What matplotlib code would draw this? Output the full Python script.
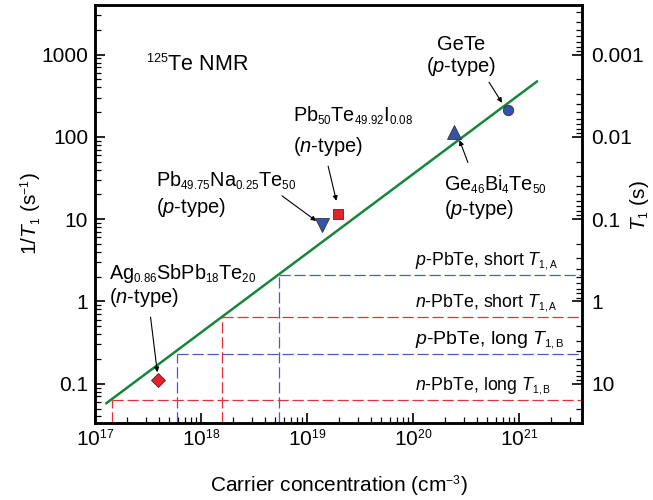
import matplotlib
matplotlib.use("Agg")
import matplotlib.pyplot as plt
import matplotlib._mathtext as _mt
import numpy as np

_mt.SHRINK_FACTOR = 0.58

plt.rcParams['font.family'] = ['Liberation Sans', 'DejaVu Sans']
plt.rcParams['mathtext.fontset'] = 'custom'
plt.rcParams['mathtext.rm'] = 'Liberation Sans'
plt.rcParams['mathtext.it'] = 'Liberation Sans:italic'
plt.rcParams['mathtext.bf'] = 'Liberation Sans:bold'

# ---- data ----
fit_x = [1.28e17, 1.47e21]
fit_y = [0.058, 470]

samples = ["GeTe", "Ge46Bi4Te50", "Pb50Te49.92I0.08", "Pb49.75Na0.25Te50", "Ag0.86SbPb18Te20"]
sample_n = [7.8e20, 2.45e20, 1.96e19, 1.38e19, 3.95e17]
sample_rate = [210, 116, 11.5, 8.5, 0.11]
sample_marker = ['o', '^', 's', 'v', 'D']
sample_color = ['#3553a8', '#3553a8', '#e8202a', '#3553a8', '#e8202a']

ref_labels = ["p-PbTe, short", "n-PbTe, short", "p-PbTe, long", "n-PbTe, long"]
ref_n = [5.4e18, 1.58e18, 5.9e17, 1.46e17]
ref_rate = [2.12, 0.655, 0.233, 0.064]
ref_color = ['#4a5fb0', '#e8303a', '#4a5fb0', '#e8303a']

fig = plt.figure(figsize=(6.53, 5.0), dpi=100)
ax = fig.add_axes([0.1455, 0.154, 0.7455, 0.836])
ax.set_xscale('log')
ax.set_yscale('log')
xlim = (1e17, 3.9e21)
ylim = (1/30, 4000)
ax.set_xlim(*xlim)
ax.set_ylim(*ylim)

# dashed reference lines
for n, r, c in zip(ref_n, ref_rate, ref_color):
    ax.plot([n, xlim[1]], [r, r], color=c, lw=0.9, dashes=(9, 3), zorder=2)
    ax.plot([n, n], [ylim[0], r], color=c, lw=0.9, dashes=(9, 3), zorder=2)

ax.plot(fit_x, fit_y, color='#15873a', lw=1.8, zorder=3)

marker_size = {'o': 7.5, 's': 7.5, 'D': 7, '^': 9.5, 'v': 9.5}
for n, r, m, c in zip(sample_n, sample_rate, sample_marker, sample_color):
    ax.plot([n], [r], marker=m, color=c, ms=marker_size[m], mec='#333333', mew=0.6,
            ls='none', zorder=4)

fs = 14.3
ap = dict(arrowstyle='-|>', color='black', lw=0.8, mutation_scale=7, shrinkA=0, shrinkB=0)

ax.text(3.0e17, 630, r'$^{125}$Te NMR', fontsize=15.5, ha='left', va='baseline')

ax.text(2.85e20, 1150, 'GeTe', fontsize=14.5, ha='center', va='baseline')
ax.text(2.85e20, 610, r'($\it{p}$-type)', fontsize=14.5, ha='center', va='baseline')
ax.annotate('', xy=(6.9e20, 259), xytext=(5.2e20, 461), arrowprops=ap)

ax.text(7.4e18, 151, r'Pb$_{50}$Te$_{49.92}$I$_{0.08}$', fontsize=fs, ha='left', va='baseline')
ax.text(7.4e18, 66, r'($\it{n}$-type)', fontsize=14.5, ha='left', va='baseline')
ax.annotate('', xy=(1.89e19, 16.7), xytext=(1.58e19, 44), arrowprops=ap)

ax.text(3.73e17, 24.7, r'Pb$_{49.75}$Na$_{0.25}$Te$_{50}$', fontsize=fs, ha='left', va='baseline')
ax.text(3.73e17, 12.0, r'($\it{p}$-type)', fontsize=14.5, ha='left', va='baseline')
ax.annotate('', xy=(1.22e19, 9.5), xytext=(5.8e18, 19.2), arrowprops=ap)

ax.text(1.94e20, 22, r'Ge$_{46}$Bi$_{4}$Te$_{50}$', fontsize=fs, ha='left', va='baseline')
ax.text(1.94e20, 11.3, r'($\it{p}$-type)', fontsize=14.5, ha='left', va='baseline')
ax.annotate('', xy=(2.74e20, 91), xytext=(3.29e20, 48.7), arrowprops=ap)

ax.text(1.35e17, 1.85, r'Ag$_{0.86}$SbPb$_{18}$Te$_{20}$', fontsize=fs, ha='left', va='baseline')
ax.text(1.35e17, 0.95, r'($\it{n}$-type)', fontsize=14.5, ha='left', va='baseline')
ax.annotate('', xy=(3.87e17, 0.138), xytext=(3.34e17, 0.645), arrowprops=ap)

ref_text = [r'$\it{p}$-PbTe, short $\it{T}_{1\mathrm{,A}}$',
            r'$\it{n}$-PbTe, short $\it{T}_{1\mathrm{,A}}$',
            r'$\it{p}$-PbTe, long $\it{T}_{1\mathrm{,B}}$',
            r'$\it{n}$-PbTe, long $\it{T}_{1\mathrm{,B}}$']
ref_fs = [12.8, 12.8, 14, 12.8]
for t, r, f in zip(ref_text, ref_rate, ref_fs):
    ax.text(1.05e20, r * 1.28, t, fontsize=f, ha='left', va='baseline')

ax.set_xlabel(r'Carrier concentration (cm$^{-3}$)', fontsize=15, labelpad=17)
ax.set_ylabel(r'1/$\it{T}_1$ (s$^{-1}$)', fontsize=15, labelpad=-2)

ax.set_xticks([1e17, 1e18, 1e19, 1e20, 1e21])
ax.set_yticks([0.1, 1, 10, 100, 1000])
ax.set_yticklabels(['0.1', '1', '10', '100', '1000'])
ax.tick_params(axis='both', which='major', direction='in', length=7, width=1.2,
               labelsize=15, pad=5)
ax.tick_params(axis='both', which='minor', direction='in', length=4, width=0.9)
ax.tick_params(axis='x', which='major', pad=4)
ax.tick_params(top=False, right=False, which='both')
for s in ax.spines.values():
    s.set_linewidth(1.8)

# right axis: T1 = 1/(1/T1)
ax2 = ax.twinx()
ax2.set_yscale('log')
ax2.set_ylim(1 / ylim[0], 1 / ylim[1])
ax2.set_yticks([0.001, 0.01, 0.1, 1, 10])
ax2.set_yticklabels(['0.001', '0.01', '0.1', '1', '10'])
ax2.tick_params(which='major', direction='in', length=7, width=1.2, labelsize=15, pad=7)
ax2.tick_params(which='minor', direction='in', length=4, width=0.9)
ax2.set_ylabel(r'$\it{T}_1$ (s)', fontsize=15)
ax2.yaxis.set_label_coords(1.094, 0.52)
for s in ax2.spines.values():
    s.set_linewidth(1.8)

fig.savefig('out.png', dpi=100)
